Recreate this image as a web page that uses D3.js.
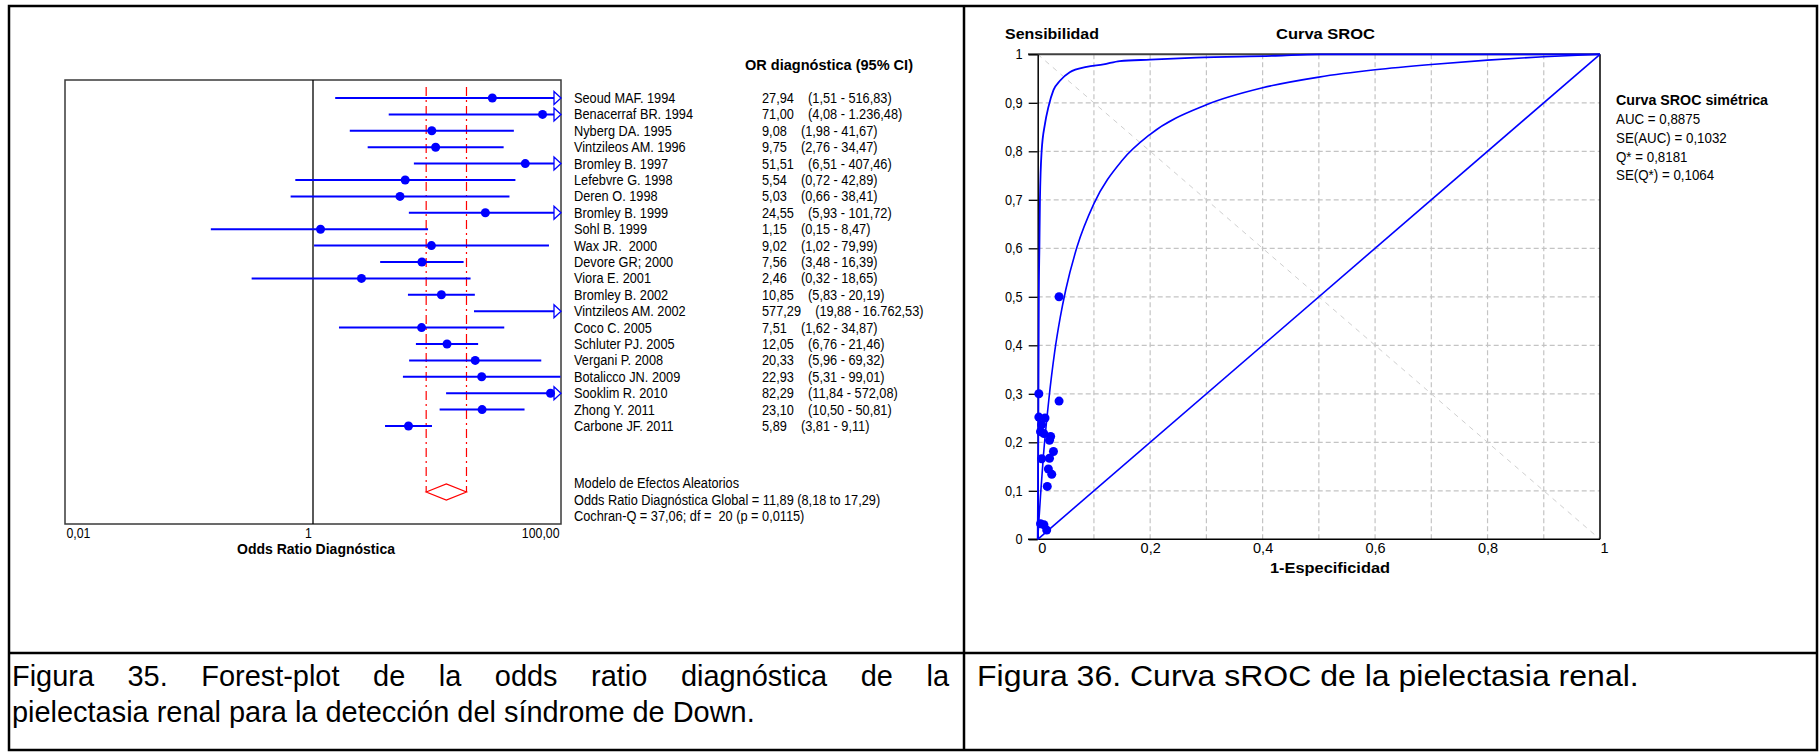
<!DOCTYPE html>
<html><head><meta charset="utf-8">
<script src="https://cdn.jsdelivr.net/npm/d3@7/dist/d3.min.js"></script>
<style>
html,body{margin:0;padding:0;background:#fff;}
svg{display:block;font-family:"Liberation Sans",Arial,sans-serif;}
</style></head>
<body>
<script>
// ---------------- DATA ----------------
const studies = ["Seoud MAF. 1994","Benacerraf BR. 1994","Nyberg DA. 1995","Vintzileos AM. 1996","Bromley B. 1997","Lefebvre G. 1998","Deren O. 1998","Bromley B. 1999","Sohl B. 1999","Wax JR.  2000","Devore GR; 2000","Viora E. 2001","Bromley B. 2002","Vintzileos AM. 2002","Coco C. 2005","Schluter PJ. 2005","Vergani P. 2008","Botalicco JN. 2009","Sooklim R. 2010","Zhong Y. 2011","Carbone JF. 2011"];
const orValues = [27.94,71.00,9.08,9.75,51.51,5.54,5.03,24.55,1.15,9.02,7.56,2.46,10.85,577.29,7.51,12.05,20.33,22.93,82.29,23.10,5.89];
const ciLower = [1.51,4.08,1.98,2.76,6.51,0.72,0.66,5.93,0.15,1.02,3.48,0.32,5.83,19.88,1.62,6.76,5.96,5.31,11.84,10.50,3.81];
const ciUpper = [516.83,1236.48,41.67,34.47,407.46,42.89,38.41,101.72,8.47,79.99,16.39,18.65,20.19,16762.53,34.87,21.46,69.32,99.01,572.08,50.81,9.11];
const orLabels = ["27,94","71,00","9,08","9,75","51,51","5,54","5,03","24,55","1,15","9,02","7,56","2,46","10,85","577,29","7,51","12,05","20,33","22,93","82,29","23,10","5,89"];
const ciLabels = ["(1,51 - 516,83)","(4,08 - 1.236,48)","(1,98 - 41,67)","(2,76 - 34,47)","(6,51 - 407,46)","(0,72 - 42,89)","(0,66 - 38,41)","(5,93 - 101,72)","(0,15 - 8,47)","(1,02 - 79,99)","(3,48 - 16,39)","(0,32 - 18,65)","(5,83 - 20,19)","(19,88 - 16.762,53)","(1,62 - 34,87)","(6,76 - 21,46)","(5,96 - 69,32)","(5,31 - 99,01)","(11,84 - 572,08)","(10,50 - 50,81)","(3,81 - 9,11)"];
const pooled = [8.18, 11.89, 17.29];
const forestTicks = [0.01, 1, 100];
const forestTickLabels = ["0,01", "1", "100,00"];
const summaryLines = ["Modelo de Efectos Aleatorios","Odds Ratio Diagnóstica Global = 11,89 (8,18 to 17,29)","Cochran-Q = 37,06; df =  20 (p = 0,0115)"];

const studyFPR = [0.038,0.002,0.038,0.002,0.013,0.007,0.005,0.011,0.023,0.021,0.028,0.021,0.007,0.019,0.025,0.017,0.005,0.011,0.016];
const studyTPR = [0.500,0.300,0.285,0.252,0.250,0.236,0.222,0.218,0.212,0.204,0.181,0.167,0.166,0.145,0.134,0.109,0.032,0.030,0.019];
const srocFPR = [0,0.005,0.01,0.02,0.03,0.04,0.05,0.07,0.1,0.15,0.2,0.3,0.4,0.5,0.6,0.7,0.8,0.9,1];
const srocTPR = [0,0.09,0.17,0.29,0.385,0.457,0.515,0.603,0.692,0.781,0.835,0.896,0.931,0.953,0.968,0.979,0.988,0.995,1];
const upperFPR = [0,0.001,0.002,0.003,0.004,0.007,0.013,0.019,0.028,0.04,0.057,0.087,0.117,0.146,0.2,0.282,0.423,0.5,1];
const upperTPR = [0,0.2,0.5,0.6,0.7,0.8,0.857,0.891,0.926,0.946,0.963,0.974,0.979,0.986,0.989,0.993,0.997,1,1];
const lowerFPR = [0,1];
const lowerTPR = [0,1];
const rocTicks = [0,0.1,0.2,0.3,0.4,0.5,0.6,0.7,0.8,0.9,1];
const rocXLabels = [0,0.2,0.4,0.6,0.8,1];
const legendLines = ["AUC = 0,8875","SE(AUC) = 0,1032","Q* = 0,8181","SE(Q*) = 0,1064"];
const caption35 = ["Figura 35. Forest-plot de la odds ratio diagnóstica de la","pielectasia renal para la detección del síndrome de Down."];
const caption36 = "Figura 36. Curva sROC de la pielectasia renal.";

// ---------------- SETUP ----------------
const W = 1819, H = 752;
const svg = d3.select("body").append("svg").attr("width", W).attr("height", H);
const BLUE = "#0000ff";
const SX = 0.88, FS = 14.5;
function txt(g, x, y, s, anchor, sx) {
  return g.append("text")
    .attr("transform", `translate(${x},${y}) scale(${sx || SX},1)`)
    .attr("text-anchor", anchor || "start")
    .attr("font-size", FS)
    .attr("xml:space", "preserve")
    .style("white-space", "pre")
    .attr("fill", "#000").text(s);
}
function bold(g, x, y, s, len, anchor) {
  return g.append("text").attr("x", x).attr("y", y)
    .attr("text-anchor", anchor || "start")
    .attr("font-size", 15).attr("font-weight", "bold")
    .attr("textLength", len).attr("lengthAdjust", "spacingAndGlyphs")
    .attr("fill", "#000").text(s);
}
const fmt = d => d === 0 ? "0" : d === 1 ? "1" : d3.format(".1f")(d).replace(".", ",");

// ---------------- TABLE ----------------
const tbl = svg.append("g").attr("fill", "none").attr("stroke", "#000").attr("stroke-width", 2.5);
tbl.append("rect").attr("x", 9).attr("y", 6).attr("width", 1808).attr("height", 744);
tbl.append("line").attr("x1", 964).attr("x2", 964).attr("y1", 6).attr("y2", 750);
tbl.append("line").attr("x1", 9).attr("x2", 1817).attr("y1", 653).attr("y2", 653);

// ---------------- FOREST PLOT ----------------
const fx = d3.scaleLog().domain([0.01, 100]).range([65, 561]);
const fy = d3.scalePoint().domain(d3.range(studies.length)).range([98, 426]);
const fg = svg.append("g");
const X0 = fx.range()[0], X1 = fx.range()[1];
fg.append("rect").attr("x", X0).attr("y", 80).attr("width", X1 - X0).attr("height", 524 - 80)
  .attr("fill", "none").attr("stroke", "#3a3a3a").attr("stroke-width", 1.5);
fg.append("line").attr("x1", fx(1)).attr("x2", fx(1)).attr("y1", 80).attr("y2", 524)
  .attr("stroke", "#000").attr("stroke-width", 1.3);

const diamondY = 492;
[pooled[0], pooled[2]].forEach(v => {
  fg.append("line").attr("x1", fx(v)).attr("x2", fx(v)).attr("y1", 87).attr("y2", diamondY)
    .attr("stroke", "#ff0000").attr("stroke-width", 1.2).attr("stroke-dasharray", "9,4,2,4");
});
fg.append("polygon")
  .attr("points", [[fx(pooled[0]), diamondY], [fx(pooled[1]), diamondY - 8], [fx(pooled[2]), diamondY], [fx(pooled[1]), diamondY + 8]].map(p => p.join(",")).join(" "))
  .attr("fill", "none").attr("stroke", "#ff0000").attr("stroke-width", 1.2);

const arrowW = 7;
studies.forEach((s, i) => {
  const y = fy(i);
  const lo = Math.max(ciLower[i], 0.01);
  const clipped = ciUpper[i] > 100;
  const hiX = clipped ? X1 - arrowW : fx(ciUpper[i]);
  fg.append("line").attr("x1", fx(lo)).attr("x2", hiX).attr("y1", y).attr("y2", y)
    .attr("stroke", BLUE).attr("stroke-width", 2);
  if (clipped) {
    fg.append("polygon")
      .attr("points", `${X1 - arrowW},${y - 6.5} ${X1},${y} ${X1 - arrowW},${y + 6.5}`)
      .attr("fill", "#fff").attr("stroke", BLUE).attr("stroke-width", 1.3);
  }
  if (orValues[i] <= 100) {
    fg.append("circle").attr("cx", fx(orValues[i])).attr("cy", y).attr("r", 4.5).attr("fill", BLUE);
  }
  txt(fg, 574, y + 5, s);
  txt(fg, 762, y + 5, orLabels[i] + "    " + ciLabels[i]);
});
bold(fg, 745, 70, "OR diagnóstica (95% CI)", 168);
summaryLines.forEach((s, i) => txt(fg, 574, 488 + i * 16.5, s));

const fAxis = fg.append("g").attr("transform", `translate(0,524)`)
  .call(d3.axisBottom(fx).tickValues(forestTicks).tickSize(0).tickPadding(4)
    .tickFormat((d, i) => forestTickLabels[i]));
fAxis.select(".domain").remove();
fAxis.selectAll("text").attr("font-size", 14).attr("font-family", "Liberation Sans, Arial, sans-serif")
  .attr("fill", "#000")
  .attr("text-anchor", (d, i) => i === 0 ? "start" : i === 2 ? "end" : "middle")
  .attr("transform", (d, i) => `translate(${i === 1 ? -5 : i === 2 ? -2 : 1},0) scale(${SX},1)`);
bold(fg, 316, 554, "Odds Ratio Diagnóstica", 158, "middle");

// ---------------- SROC ----------------
const rx = d3.scaleLinear().domain([0, 1]).range([1037.7, 1600]);
const ry = d3.scaleLinear().domain([0, 1]).range([539.3, 54.3]);
const rg = svg.append("g");
rocTicks.slice(1, -1).forEach(t => {
  rg.append("line").attr("x1", rx(t)).attr("x2", rx(t)).attr("y1", ry(1)).attr("y2", ry(0))
    .attr("stroke", "#c4c4c4").attr("stroke-width", 1.2).attr("stroke-dasharray", "5,3");
  rg.append("line").attr("x1", rx(0)).attr("x2", rx(1)).attr("y1", ry(t)).attr("y2", ry(t))
    .attr("stroke", "#c4c4c4").attr("stroke-width", 1.2).attr("stroke-dasharray", "5,3");
});
rg.append("line").attr("x1", rx(0)).attr("y1", ry(1)).attr("x2", rx(1)).attr("y2", ry(0))
  .attr("stroke", "#cfcfcf").attr("stroke-width", 1).attr("stroke-dasharray", "5,5");

rg.append("line").attr("x1", 1028).attr("x2", rx(1)).attr("y1", ry(1)).attr("y2", ry(1)).attr("stroke", "#404040").attr("stroke-width", 2);
rg.append("line").attr("x1", rx(1)).attr("x2", rx(1)).attr("y1", ry(1)).attr("y2", ry(0)).attr("stroke", "#000").attr("stroke-width", 1.5);

const yAx = rg.append("g").attr("transform", `translate(${rx(0)},0)`)
  .call(d3.axisLeft(ry).tickValues(rocTicks).tickSize(9).tickSizeOuter(0).tickPadding(6).tickFormat(fmt));
yAx.select(".domain").attr("stroke", "#000").attr("stroke-width", 1.5);
yAx.selectAll(".tick line").attr("stroke", "#000").attr("stroke-width", 1.3);
yAx.selectAll("text").attr("font-size", 14.5).attr("fill", "#000").attr("font-family", "Liberation Sans, Arial, sans-serif")
  .attr("transform", `scale(${SX},1)`).attr("x", -15 / SX);

const xAx = rg.append("g").attr("transform", `translate(0,${ry(0)})`)
  .call(d3.axisBottom(rx).tickValues(rocXLabels).tickSize(0).tickSizeOuter(0).tickPadding(3).tickFormat(fmt));
xAx.select(".domain").remove();
xAx.selectAll("text").attr("font-size", 14.5).attr("fill", "#000").attr("font-family", "Liberation Sans, Arial, sans-serif")
  .attr("transform", (d) => `translate(${d === 0 ? 4 : d === 1 ? 4 : 0},0)`);
rg.append("line").attr("x1", 1028).attr("x2", rx(1)).attr("y1", ry(0)).attr("y2", ry(0)).attr("stroke", "#000").attr("stroke-width", 1.5);

const line = d3.line().x(d => rx(d[0])).y(d => ry(d[1])).curve(d3.curveMonotoneX);
rg.append("path").attr("d", line(lowerFPR.map((v, i) => [v, lowerTPR[i]])))
  .attr("fill", "none").attr("stroke", BLUE).attr("stroke-width", 1.6);
rg.append("path").attr("d", line(srocFPR.map((v, i) => [v, srocTPR[i]])))
  .attr("fill", "none").attr("stroke", BLUE).attr("stroke-width", 1.6);
rg.append("path").attr("d", line(upperFPR.map((v, i) => [v, upperTPR[i]])))
  .attr("fill", "none").attr("stroke", BLUE).attr("stroke-width", 1.8);
studyFPR.forEach((v, i) => {
  rg.append("circle").attr("cx", rx(v)).attr("cy", ry(studyTPR[i])).attr("r", 4.5).attr("fill", BLUE);
});

bold(rg, 1005, 39, "Sensibilidad", 94);
bold(rg, 1276, 39, "Curva SROC", 99);
bold(rg, 1330, 573, "1-Especificidad", 120, "middle");
bold(rg, 1616, 105, "Curva SROC simétrica", 152);
legendLines.forEach((s, i) => txt(rg, 1616, 124 + i * 18.8, s, "start", 0.92));

// ---------------- CAPTIONS ----------------
const cg = svg.append("g");
const CFS = 29;
function measure(s) {
  const t = cg.append("text").attr("font-size", CFS).text(s);
  const w = t.node().getComputedTextLength(); t.remove(); return w;
}
const CSX = 743 / measure(caption35[1]);
function capText(x, y, s, sx) {
  return cg.append("text").attr("transform", `translate(${x},${y}) scale(${sx || CSX},1)`)
    .attr("font-size", CFS).attr("fill", "#000").text(s);
}
(function () {
  const words = caption35[0].split(" ");
  const widths = words.map(w => measure(w) * CSX);
  const gap = (949 - 12 - d3.sum(widths)) / (words.length - 1);
  let x = 12;
  words.forEach((w, i) => { capText(x, 686, w); x += widths[i] + gap; });
})();
capText(12, 722, caption35[1]);
capText(977, 686, caption36, 662 / measure(caption36));
</script>
</body></html>
